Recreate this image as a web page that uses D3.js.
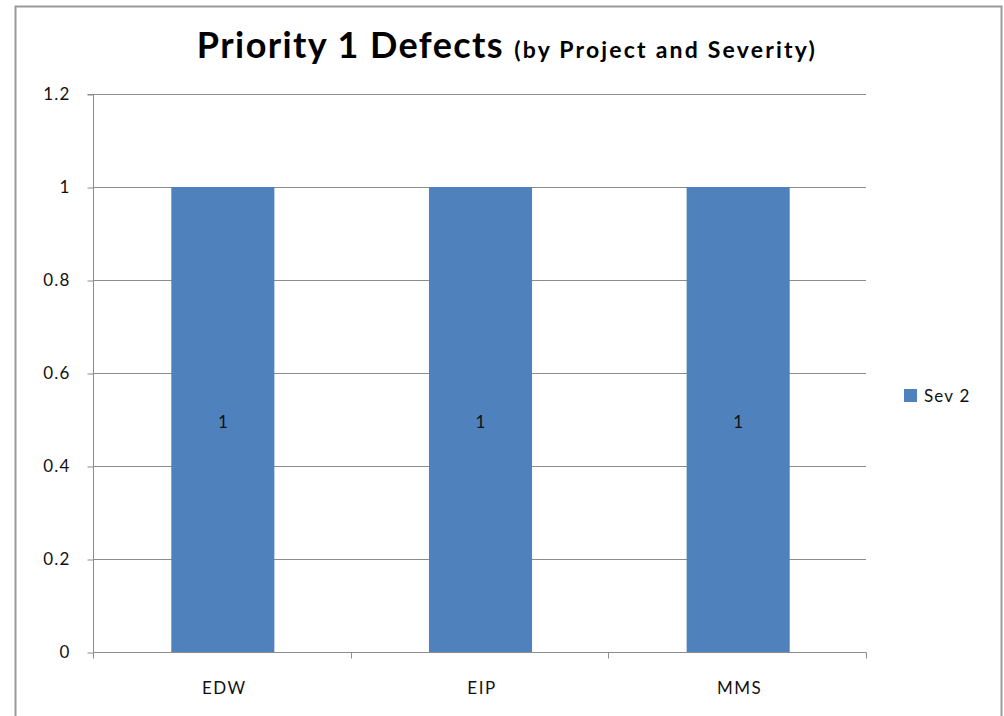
<!DOCTYPE html>
<html><head><meta charset="utf-8">
<script src="https://cdn.jsdelivr.net/npm/d3@7"></script>
<style>body{margin:0;background:#fff;}svg{display:block;}</style>
</head><body>
<script>
const categories = ["EDW", "EIP", "MMS"];
const seriesName = "Sev 2";
const sev2Values = [1, 1, 1];
const yTicks = [0, 0.2, 0.4, 0.6, 0.8, 1, 1.2];
const yTickLabels = ["0", "0.2", "0.4", "0.6", "0.8", "1", "1.2"];

const W = 1004, H = 716;
const font = "Lato, 'Open Sans', sans-serif";
const svg = d3.select("body").append("svg").attr("width", W).attr("height", H);

// outer chart border
svg.append("rect").attr("x", 15.5).attr("y", 6.5).attr("width", 986).attr("height", 720)
  .attr("fill", "#fff").attr("stroke", "#9a9a9a").attr("stroke-width", 2);

const m = {left: 93, right: 866, top: 94, bottom: 652};
const x = d3.scaleBand().domain(categories).range([m.left, m.right]).paddingInner(0).paddingOuter(0);
const y = d3.scaleLinear().domain([0, 1.2]).range([m.bottom, m.top]);

// gridlines
svg.append("g").selectAll("line").data(yTicks.filter(d => d > 0)).join("line")
  .attr("x1", m.left).attr("x2", m.right)
  .attr("y1", d => Math.round(y(d)) + 0.5).attr("y2", d => Math.round(y(d)) + 0.5)
  .attr("stroke", "#8c8c8c").attr("stroke-width", 1);

// y axis
const yAxis = d3.axisLeft(y).tickValues(yTicks).tickSize(6).tickPadding(17)
  .tickFormat((d, i) => yTickLabels[i]);
const gy = svg.append("g").attr("transform", `translate(${m.left + 0.5},0.5)`).call(yAxis);
gy.select(".domain").attr("stroke", "#8c8c8c").attr("d", `M-6,${y(1.2)}H0V${y(0)}`);
gy.selectAll(".tick line").attr("stroke", "#8c8c8c");
gy.selectAll(".tick text").attr("font-family", font).attr("font-size", 17)
  .attr("letter-spacing", 1.2).attr("fill", "#111");

// bars
const barW = x.bandwidth() * 0.4;
svg.append("g").selectAll("rect").data(categories).join("rect")
  .attr("x", d => x(d) + x.bandwidth() / 2 - barW / 2 + 1)
  .attr("y", (d, i) => y(sev2Values[i]))
  .attr("width", barW)
  .attr("height", (d, i) => y(0) - y(sev2Values[i]))
  .attr("fill", "#4F81BD");

// data labels
svg.append("g").selectAll("text").data(categories).join("text")
  .attr("x", d => x(d) + x.bandwidth() / 2 + 1)
  .attr("y", (d, i) => y(sev2Values[i] / 2) + 8)
  .attr("text-anchor", "middle").attr("font-family", font).attr("font-size", 17).attr("fill", "#111")
  .text((d, i) => sev2Values[i]);

// x axis
const gx = svg.append("g").attr("transform", `translate(0.5,${Math.round(y(0)) + 0.5})`);
gx.append("line").attr("x1", m.left).attr("x2", m.right).attr("stroke", "#8c8c8c");
const bounds = [m.left, ...categories.map(c => x(c) + x.bandwidth())];
gx.selectAll("line.tk").data(bounds).join("line").attr("class", "tk")
  .attr("x1", d => Math.round(d)).attr("x2", d => Math.round(d)).attr("y1", 0).attr("y2", 6)
  .attr("stroke", "#8c8c8c");
gx.selectAll("text").data(categories).join("text")
  .attr("x", d => x(d) + x.bandwidth() / 2 + 2).attr("y", 41)
  .attr("text-anchor", "middle").attr("font-family", font).attr("font-size", 17)
  .attr("letter-spacing", 1.5).attr("fill", "#111")
  .text(d => d);

// title
const title = svg.append("text").attr("x", 507).attr("y", 58).attr("text-anchor", "middle")
  .attr("font-family", font).attr("font-weight", "bold").attr("fill", "#000");
title.append("tspan").attr("font-size", 36).attr("letter-spacing", 1.4).text("Priority 1 Defects ");
title.append("tspan").attr("font-size", 23).attr("letter-spacing", 2.2).text("(by Project and Severity)");

// legend
const lg = svg.append("g").attr("transform", "translate(904,389)");
lg.append("rect").attr("width", 13).attr("height", 13).attr("fill", "#4F81BD");
lg.append("text").attr("x", 20).attr("y", 13).attr("font-family", font).attr("font-size", 17)
  .attr("letter-spacing", 1.2).attr("fill", "#111").text(seriesName);
</script>
</body></html>
